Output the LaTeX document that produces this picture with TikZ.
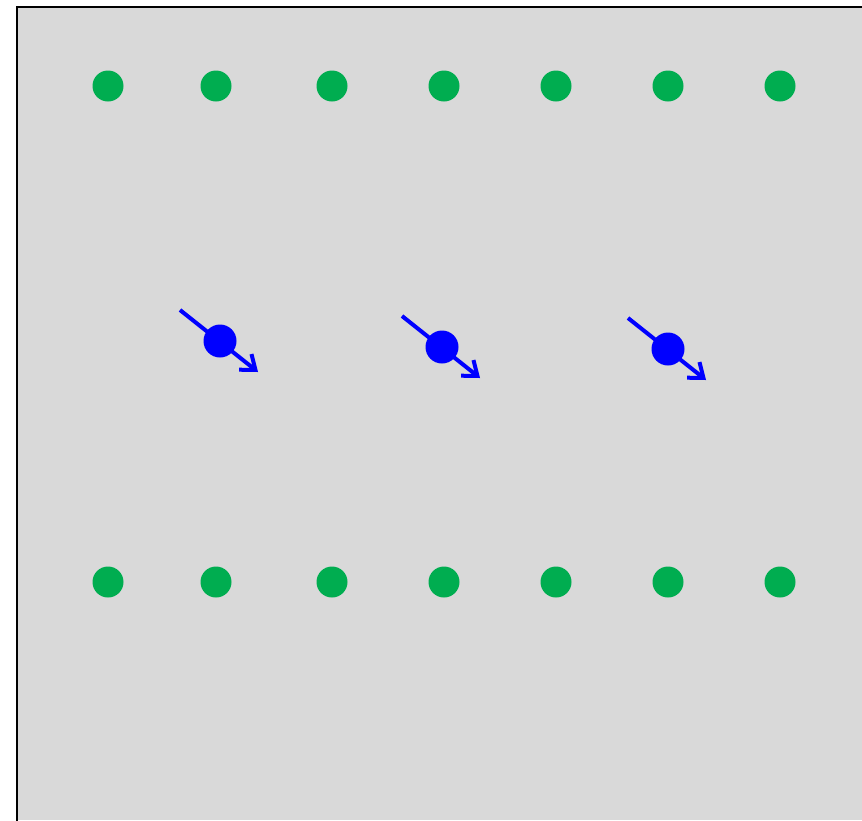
\documentclass[tikz,border=0pt]{standalone}
\usetikzlibrary{arrows.meta}
\definecolor{dotgreen}{HTML}{00AD50}
\definecolor{panelgray}{HTML}{D9D9D9}
\tikzset{gdot/.style={circle,fill=dotgreen,inner sep=0pt,minimum size=31pt},
         bdot/.style={circle,fill=blue,inner sep=0pt,minimum size=33pt},
         barr/.style={blue,line width=4pt,-{Straight Barb[length=13pt,width=20pt]}}}
\begin{document}
\begin{tikzpicture}[x=1pt,y=-1pt]
  \useasboundingbox (0,0) rectangle (862,820);
  \fill[panelgray] (17,7) rectangle (862,820);
  \draw[line width=2pt] (17,822) -- (17,7) -- (864,7);
  \foreach \x/\n in {108/1,216/2,332/3,444/4,556/5,668/6,780/7}
    {\node[gdot] (t\n) at (\x,86) {}; \node[gdot] (b\n) at (\x,582) {};}
  \foreach \x/\y/\n in {220/341/1,442/347/2,668/349/3}
    {\coordinate (s\n) at (\x-40,\y-31); \coordinate (e\n) at (\x+38,\y+31);
     \draw[barr] (s\n)--(e\n); \node[bdot] (p\n) at (\x,\y) {};}
\end{tikzpicture}
\end{document}
